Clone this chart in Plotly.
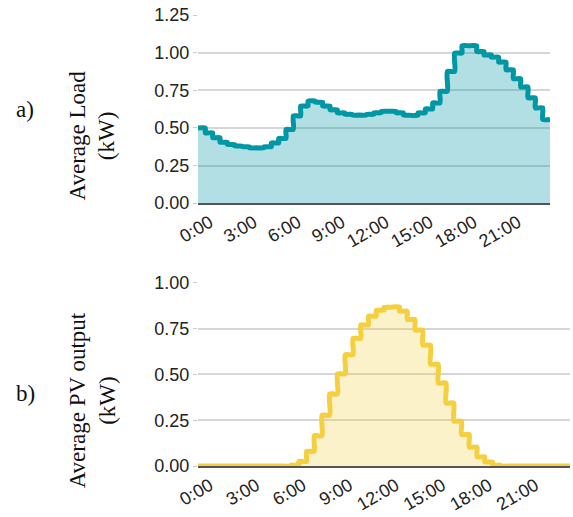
import numpy as np
import plotly.graph_objects as go

# Half-hourly averages, 48 intervals starting at 0:00
load_kw = [0.50, 0.467, 0.435, 0.405, 0.39, 0.38, 0.375, 0.368,
           0.368, 0.375, 0.40, 0.43, 0.49, 0.58, 0.645, 0.677,
           0.67, 0.645, 0.62, 0.60, 0.59, 0.585, 0.585, 0.59,
           0.60, 0.61, 0.61, 0.60, 0.585, 0.584, 0.60, 0.626,
           0.666, 0.743, 0.875, 0.997, 1.045, 1.045, 1.007, 0.985,
           0.97, 0.937, 0.886, 0.827, 0.772, 0.70, 0.633, 0.556]

pv_kw = [0, 0, 0, 0, 0, 0, 0, 0,
         0, 0, 0, 0, 0.005, 0.025, 0.08, 0.165,
         0.277, 0.393, 0.503, 0.607, 0.697, 0.77, 0.818, 0.85,
         0.866, 0.868, 0.845, 0.80, 0.742, 0.66, 0.556, 0.453,
         0.344, 0.245, 0.172, 0.103, 0.05, 0.022, 0.005, 0,
         0, 0, 0, 0, 0, 0, 0, 0]

tick_hours = [0, 3, 6, 9, 12, 15, 18, 21]
tick_labels = ["0:00", "3:00", "6:00", "9:00", "12:00", "15:00", "18:00", "21:00"]
load_ticks = [0, 0.25, 0.5, 0.75, 1.0, 1.25]
pv_ticks = [0, 0.25, 0.5, 0.75, 1.0]


def step_path(values, width=0.5):
    """Corner points of a step outline: each value held over its half-hour interval."""
    xs, ys = [], []
    for i, v in enumerate(values):
        xs += [i * width, (i + 1) * width]
        ys += [v, v]
    return xs, ys


load_x, load_y = step_path(load_kw)
pv_x, pv_y = step_path(pv_kw)

fig = go.Figure()
fig.add_trace(go.Scatter(
    x=load_x, y=load_y, mode="lines",
    line=dict(shape="spline", smoothing=0.6, color="#0097a5", width=5),
    fill="tozeroy", fillcolor="rgba(0,150,165,0.30)", xaxis="x", yaxis="y", showlegend=False))
fig.add_trace(go.Scatter(
    x=pv_x, y=pv_y, mode="lines",
    line=dict(shape="spline", smoothing=0.6, color="#f4cf3f", width=5),
    fill="tozeroy", fillcolor="rgba(245,208,60,0.27)", xaxis="x2", yaxis="y2", showlegend=False))

W, H = 573, 517
L, R, T, B = 198, 3, 15, 49
pw, ph = W - L - R, H - T - B

def px(x):
    return (x - L) / pw

def py(y):
    return (H - B - y) / ph

tick_font = dict(family="Liberation Sans, Arial", size=18, color="#222")
x_font = dict(family="Liberation Sans, Arial", size=18, color="#222")
common_x = dict(range=[0, 24], tickmode="array", tickvals=tick_hours, ticktext=tick_labels,
                tickangle=-30, tickfont=x_font, showgrid=False, zeroline=False,
                showline=True, linecolor="#555", linewidth=2, ticks="", ticklabelshift=12)
common_y = dict(tickformat=".2f", tickfont=tick_font, showgrid=True, gridcolor="#d6d6d6",
                gridwidth=1.5, zeroline=False, showline=False, ticks="outside",
                ticklen=4, tickcolor="#cccccc")

fig.update_layout(
    width=W, height=H,
    margin=dict(l=L, r=R, t=T, b=B),
    paper_bgcolor="white", plot_bgcolor="white",
    xaxis=dict(domain=[0, px(550)], anchor="y", **common_x),
    yaxis=dict(domain=[py(204), py(15)], range=[0, 1.25], tickvals=load_ticks, anchor="x", **common_y),
    xaxis2=dict(domain=[0, 1], anchor="y2", **common_x),
    yaxis2=dict(domain=[py(468), py(284)], range=[0, 1.0], tickvals=pv_ticks, anchor="x2", **common_y),
)

serif = dict(family="Liberation Serif, Times New Roman", size=23, color="#111")
for text, x, y, angle in [("a)", 25, 110, 0), ("b)", 25, 395, 0),
                          ("Average Load<br>(kW)", 92, 136, -90),
                          ("Average PV output<br>(kW)", 92, 402, -90)]:
    fig.add_annotation(text=text, x=px(x), y=py(y), xref="paper", yref="paper",
                       xanchor="center", yanchor="middle", showarrow=False,
                       textangle=angle, font=serif)

fig.write_html("out.html")
